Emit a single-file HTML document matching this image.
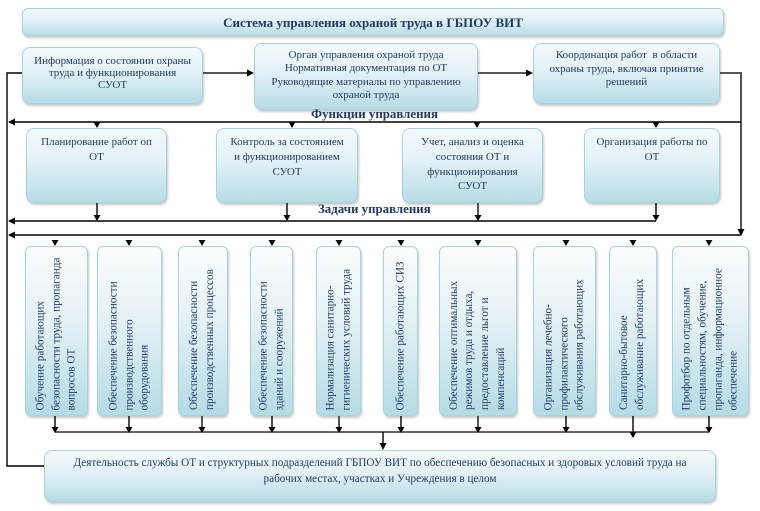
<!DOCTYPE html>
<html><head><meta charset="utf-8">
<style>
html,body{margin:0;padding:0;background:#fff;}
body{width:760px;height:511px;position:relative;overflow:hidden;font-family:"Liberation Serif","DejaVu Serif",serif;color:#1f3a68;}
.b{position:absolute;box-sizing:border-box;border:1px solid #a6d3e0;border-radius:8px;background:linear-gradient(to bottom,#f4fafc 0%,#e2f1f6 45%,#b7dce6 100%);box-shadow:1px 2px 2px rgba(0,0,0,0.22);text-align:center;font-size:11px;}
.v{border-radius:6px;background:linear-gradient(to bottom,#fbfdfe 0%,#e3f1f5 45%,#b5dbe5 100%);}
.in{position:absolute;transform:rotate(-90deg);display:flex;flex-direction:column;justify-content:center;box-sizing:border-box;padding-left:7px;text-align:left;font-size:11.2px;line-height:15.7px;white-space:nowrap;}
.lbl{position:absolute;font-weight:bold;font-size:12.9px;white-space:nowrap;}
svg{position:absolute;left:0;top:0;}
</style></head><body>

<div class="b" style="left:22px;top:8px;width:702px;height:28px;border-radius:6px;font-weight:bold;font-size:13px;line-height:27px;">Система управления охраной труда в ГБПОУ ВИТ</div>

<div class="b" style="left:22px;top:47px;width:181px;height:57px;padding-top:8px;line-height:11.8px;">Информация о состоянии охраны<br>труда и функционирования<br>СУОТ</div>
<div class="b" style="left:254px;top:43px;width:224px;height:67px;padding-top:5px;line-height:13.4px;">Орган управления охраной труда<br>Нормативная документация по ОТ<br>Руководящие материалы по управлению<br>охраной труда</div>
<div class="b" style="left:533px;top:43px;width:187px;height:61px;padding-top:5px;line-height:13.5px;">Координация работ&nbsp; в области<br>охраны труда, включая принятие<br>решений</div>

<div class="lbl" style="left:311px;top:107px;">Функции управления</div>

<div class="b" style="left:26px;top:128px;width:141px;height:75px;padding-top:6px;line-height:14.8px;">Планирование работ оп<br>ОТ</div>
<div class="b" style="left:216px;top:128px;width:142px;height:75px;padding-top:6px;line-height:14.8px;">Контроль за состоянием<br>и функционированием<br>СУОТ</div>
<div class="b" style="left:402px;top:128px;width:141px;height:75px;padding-top:6px;line-height:14.8px;">Учет, анализ и оценка<br>состояния ОТ и<br>функционирования<br>СУОТ</div>
<div class="b" style="left:584px;top:128px;width:136px;height:75px;padding-top:6px;line-height:14.8px;">Организация работы по<br>ОТ</div>

<div class="lbl" style="left:318px;top:202px;">Задачи управления</div>

<!-- row 3 vertical boxes (top 246, height 170) -->
<div class="b v" style="left:25px;top:246px;width:63px;height:170px;"><div class="in" style="width:170px;height:63px;left:-54.5px;top:53.5px;">Обучение работающих<br>безопасности труда, пропаганда<br>вопросов ОТ</div></div>
<div class="b v" style="left:97px;top:246px;width:65px;height:170px;"><div class="in" style="width:170px;height:65px;left:-53.5px;top:52.5px;">Обеспечение безопасности<br>производственного<br>оборудования</div></div>
<div class="b v" style="left:178px;top:246px;width:50px;height:170px;"><div class="in" style="width:170px;height:50px;left:-61px;top:60px;">Обеспечение безопасности<br>производственных процессов</div></div>
<div class="b v" style="left:250px;top:246px;width:43px;height:170px;"><div class="in" style="width:170px;height:43px;left:-64.5px;top:63.5px;">Обеспечение безопасности<br>зданий и сооружений</div></div>
<div class="b v" style="left:316px;top:246px;width:45px;height:170px;"><div class="in" style="width:170px;height:45px;left:-63.5px;top:62.5px;">Нормализация санитарно-<br>гигиенических условий труда</div></div>
<div class="b v" style="left:383px;top:246px;width:35px;height:170px;"><div class="in" style="width:170px;height:35px;left:-68.5px;top:67.5px;">Обеспечение работающих СИЗ</div></div>
<div class="b v" style="left:439px;top:246px;width:78px;height:170px;"><div class="in" style="width:170px;height:78px;left:-47px;top:46px;">Обеспечение оптимальных<br>режимов труда и отдыха,<br>предоставление льгот и<br>компенсаций</div></div>
<div class="b v" style="left:533px;top:246px;width:63px;height:170px;"><div class="in" style="width:170px;height:63px;left:-54.5px;top:53.5px;">Организация лечебно-<br>профилактического<br>обслуживания работающих</div></div>
<div class="b v" style="left:609px;top:246px;width:48px;height:170px;"><div class="in" style="width:170px;height:48px;left:-62px;top:61px;">Санитарно-бытовое<br>обслуживание работающих</div></div>
<div class="b v" style="left:672px;top:246px;width:77px;height:170px;"><div class="in" style="width:170px;height:77px;left:-47.5px;top:46.5px;">Профотбор по отдельным<br>специальностям, обучение,<br>пропаганда, информационное<br>обеспечение</div></div>

<div class="b" style="left:44px;top:450px;width:672px;height:52px;padding-top:4px;line-height:16px;font-size:11.2px;">Деятельность службы ОТ и структурных подразделений ГБПОУ ВИТ по обеспечению безопасных и здоровых условий труда на<br>рабочих местах, участках и Учреждения в целом</div>

<svg width="760" height="511" viewBox="0 0 760 511">
<g stroke="#000" stroke-width="1.4" fill="none">
  <line x1="203" y1="73" x2="249" y2="73" stroke="#555" stroke-width="2"/>
  <line x1="478" y1="73" x2="528" y2="73" stroke="#555" stroke-width="2"/>
  <polyline points="720,73 741,73 741,229" stroke="#555" stroke-width="2"/>
  <polyline points="22,73 7,73 7,466 44,466"/>
  <line x1="741" y1="122" x2="13" y2="122"/>
  <line x1="97" y1="203" x2="97" y2="216"/>
  <line x1="287" y1="203" x2="287" y2="216"/>
  <line x1="478" y1="203" x2="478" y2="216" stroke="#555" stroke-width="2"/>
  <line x1="656" y1="203" x2="656" y2="216"/>
  <line x1="656" y1="221" x2="13" y2="221" stroke-width="1.6"/>
  <line x1="741" y1="235" x2="13" y2="235"/>
  <line x1="55" y1="416" x2="55" y2="428"/>
  <line x1="129" y1="416" x2="129" y2="428"/>
  <line x1="202" y1="416" x2="202" y2="428" stroke="#555" stroke-width="2"/>
  <line x1="272" y1="416" x2="272" y2="428"/>
  <line x1="339" y1="416" x2="339" y2="428" stroke="#555" stroke-width="2"/>
  <line x1="401" y1="416" x2="401" y2="428"/>
  <line x1="478" y1="416" x2="478" y2="428" stroke="#555" stroke-width="2"/>
  <line x1="566" y1="416" x2="566" y2="428"/>
  <line x1="633" y1="416" x2="633" y2="432"/>
  <line x1="709" y1="416" x2="709" y2="428"/>
  <line x1="55" y1="432" x2="709" y2="432" stroke="#333" stroke-width="1.6"/>
  <line x1="383" y1="432" x2="383" y2="444"/>
</g>
<g fill="#000">
  <polygon points="254,73 247,69.5 247,76.5"/>
  <polygon points="533,73 526,69.5 526,76.5"/>
  <polygon points="741,236 737.5,229 744.5,229"/>
  <polygon points="8,122 15,118.5 15,125.5"/>
  <polygon points="8,221 15,217.5 15,224.5"/>
  <polygon points="8,235 15,231.5 15,238.5"/>
  <polygon points="97,128 93.5,122 100.5,122"/>
  <polygon points="292,128 288.5,122 295.5,122"/>
  <polygon points="477,128 473.5,122 480.5,122"/>
  <polygon points="656,128 652.5,122 659.5,122"/>
  <polygon points="97,221 93.5,215 100.5,215"/>
  <polygon points="287,221 283.5,215 290.5,215"/>
  <polygon points="478,221 474.5,215 481.5,215"/>
  <polygon points="656,221 652.5,215 659.5,215"/>
  <polygon points="55,246 51.5,240 58.5,240"/>
  <polygon points="129,246 125.5,240 132.5,240"/>
  <polygon points="202,246 198.5,240 205.5,240"/>
  <polygon points="272,246 268.5,240 275.5,240"/>
  <polygon points="339,246 335.5,240 342.5,240"/>
  <polygon points="401,246 397.5,240 404.5,240"/>
  <polygon points="478,246 474.5,240 481.5,240"/>
  <polygon points="566,246 562.5,240 569.5,240"/>
  <polygon points="633,246 629.5,240 636.5,240"/>
  <polygon points="709,246 705.5,240 712.5,240"/>
  <polygon points="55,433 51.5,427 58.5,427"/>
  <polygon points="129,433 125.5,427 132.5,427"/>
  <polygon points="202,433 198.5,427 205.5,427"/>
  <polygon points="272,433 268.5,427 275.5,427"/>
  <polygon points="339,433 335.5,427 342.5,427"/>
  <polygon points="401,433 397.5,427 404.5,427"/>
  <polygon points="478,433 474.5,427 481.5,427"/>
  <polygon points="566,433 562.5,427 569.5,427"/>
  <polygon points="633,438 629.5,432 636.5,432"/>
  <polygon points="709,433 705.5,427 712.5,427"/>
  <polygon points="383,450 379.5,443 386.5,443"/>
</g>
</svg>
</body></html>
